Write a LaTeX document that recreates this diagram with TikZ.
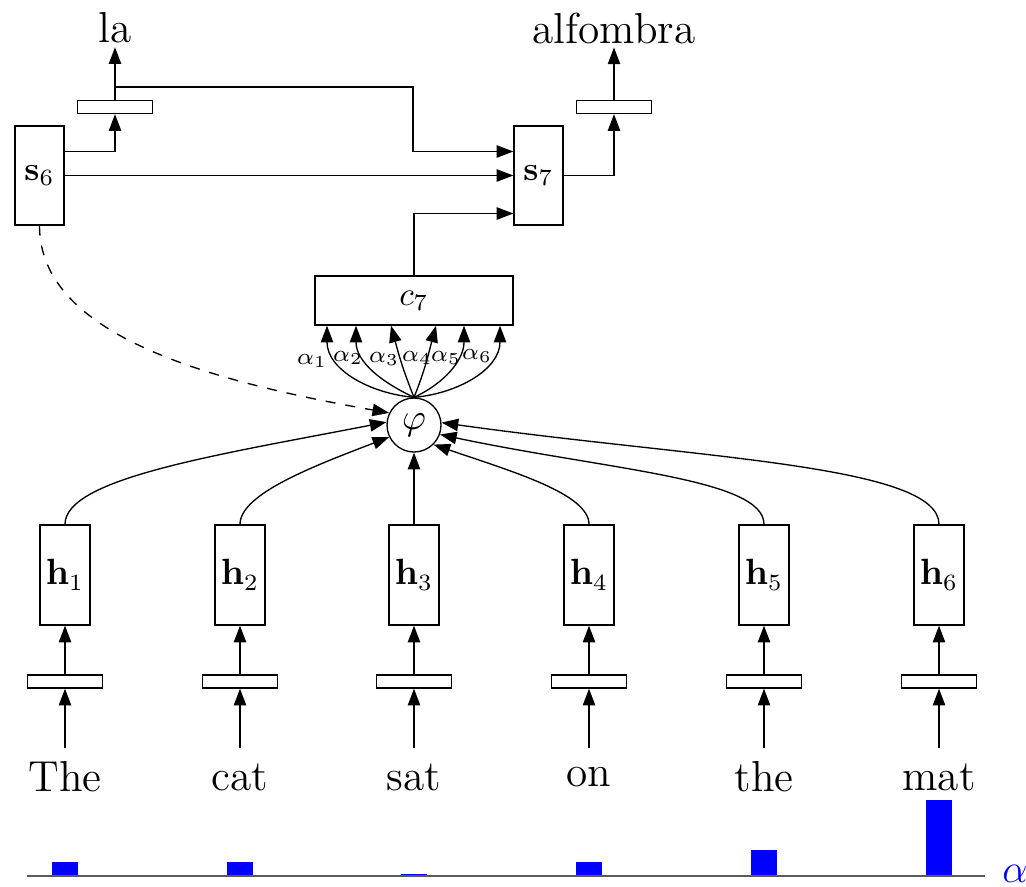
\documentclass[tikz,border=0pt]{standalone}
\usetikzlibrary{arrows.meta,calc}
\begin{document}
\begin{tikzpicture}[x=0.3pt,y=0.3pt,
  arr/.style={-{Triangle[length=5pt,width=3.7pt]}},
  hbox/.style={draw,minimum width=15pt,minimum height=30pt,inner sep=0pt,font=\fontsize{10.5}{12}\selectfont},
  ebar/.style={draw,minimum width=22.5pt,minimum height=3.9pt,inner sep=0pt},
  word/.style={font=\fontsize{13}{15}\selectfont,inner sep=1pt},
  alab/.style={font=\scriptsize,inner sep=0pt},
  abar/.style={fill=blue}]
\useasboundingbox (0,0) rectangle (1026,-886);
% encoder columns
\foreach \i/\x/\w in {1/65/The,2/240/cat,3/414/sat,4/589/on,5/764/the,6/939/mat}{
  \node[hbox] (h\i) at (\x,-575) {$\mathbf{h}_{\i}$};
  \node[ebar] (e\i) at (\x,-681.5) {};
  \node[word] (w\i) at (\x,-777) {\w};
}
\coordinate (wb) at (0,-748);
\foreach \i in {1,...,6}{
  \draw[arr] (w\i |- wb) -- (e\i.south);
  \draw[arr] (e\i.north) -- (h\i.south);
}
% attention
\node[draw,circle,minimum size=16.2pt,inner sep=0pt,font=\fontsize{11}{13}\selectfont] (phi) at (414,-425) {$\varphi$};
\draw[arr] (h1.north) to[out=90,in=191,out looseness=0.35,in looseness=1.3] (phi.174);
\draw[arr] (h2.north) to[out=90,in=201,out looseness=0.45,in looseness=1.2] (phi.206);
\draw[arr] (h3.north) -- (phi.south);
\draw[arr] (h4.north) to[out=90,in=-19,out looseness=0.45,in looseness=1.2] (phi.-45);
\draw[arr] (h5.north) to[out=90,in=-12,out looseness=0.35,in looseness=1.3] (phi.-20);
\draw[arr] (h6.north) to[out=90,in=-8,out looseness=0.3,in looseness=1.3] (phi.5);
% context
\node[draw,minimum width=59.4pt,minimum height=14.7pt,inner sep=0pt] (c7) at (414,-300.5) {$c_7$};
\draw[arr] (phi.north) to[out=175,in=-90] ($(c7.south)+(-87,0)$);
\draw[arr] (phi.north) to[out=155,in=-90] ($(c7.south)+(-58,0)$);
\draw[arr] (phi.north) to[out=112,in=-75] ($(c7.south)+(-23,0)$);
\draw[arr] (phi.north) to[out=68,in=-105] ($(c7.south)+(22,0)$);
\draw[arr] (phi.north) to[out=25,in=-90] ($(c7.south)+(50,0)$);
\draw[arr] (phi.north) to[out=5,in=-90] ($(c7.south)+(86,0)$);
\node[alab] (a1) at (312,-361) {$\alpha_1$};
\node[alab] (a2) at (348,-358) {$\alpha_2$};
\node[alab] (a3) at (384,-359) {$\alpha_3$};
\node[alab] (a4) at (417,-358) {$\alpha_4$};
\node[alab] (a5) at (446,-358) {$\alpha_5$};
\node[alab] (a6) at (477,-356) {$\alpha_6$};
% decoder
\node[hbox,minimum width=14.7pt,minimum height=29.7pt,font=\normalsize] (s6) at (39.5,-175.5) {$\mathbf{s}_6$\hspace{3pt}};
\node[hbox,minimum width=14.7pt,minimum height=29.7pt,font=\normalsize] (s7) at (538.5,-175.5) {$\mathbf{s}_7$\hspace{3pt}};
\node[ebar] (o6) at (115,-107) {};
\node[ebar] (o7) at (614,-107) {};
\node[word] (la) at (115,-28) {la};
\node[word] (alf) at (614,-28) {alfombra};
\draw[arr] ([yshift=7.2pt]s6.east) -| (o6.south);
\draw[arr] (o6.north) -- (la.south);
\coordinate (j) at ($(o6.north)+(0,13)$);
\draw[arr] (j) -- ++(298,0) |- ([yshift=7.2pt]s7.west);
\draw[arr] (s6.east) -- (s7.west);
\draw[arr] (c7.north) |- ([yshift=-11.4pt]s7.west);
\draw[arr] (s7.east) -| (o7.south);
\draw[arr] (o7.north) -- (alf.south);
\draw[arr,dashed] (s6.south) to[out=-90,in=170,out looseness=0.7,in looseness=1.2] (phi.154);
% attention weights
\fill[abar] (52,-876) rectangle (78,-862);
\fill[abar] (227,-876) rectangle (253,-862);
\fill[abar] (401,-876) rectangle (427,-874);
\fill[abar] (576,-876) rectangle (602,-862);
\fill[abar] (751,-876) rectangle (777,-850);
\fill[abar] (926,-876) rectangle (952,-800);
\draw[black!65,line width=0.45pt] (27,-876) coordinate (ax0) -- (985,-876) coordinate (ax1);
\node[text=blue,font=\large,anchor=west,inner sep=0pt] (alpha) at ([xshift=5pt,yshift=0.5pt]ax1) {$\alpha$};
\end{tikzpicture}
\end{document}
